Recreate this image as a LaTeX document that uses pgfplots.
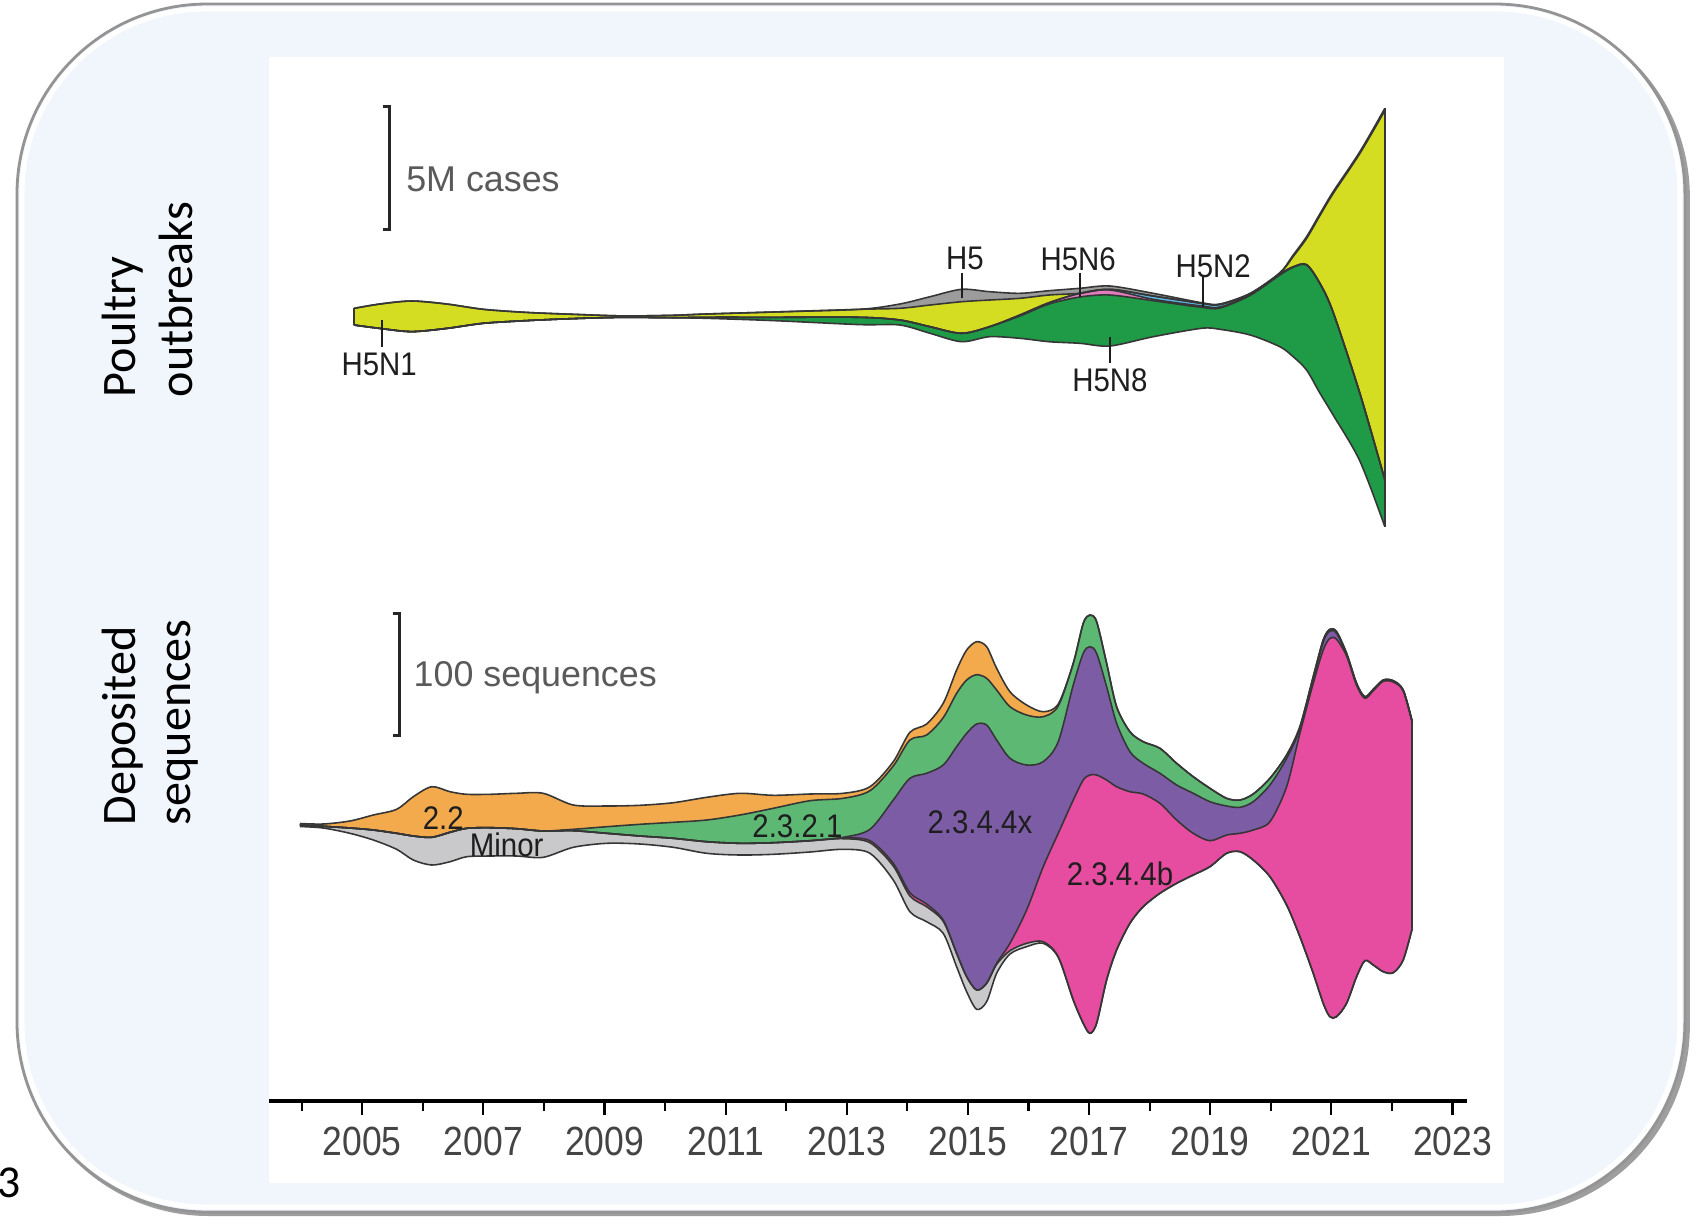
\documentclass[border=0pt]{standalone}
\usepackage{graphicx}
\usepackage{pgfplots}
\pgfplotsset{compat=1.18}
\usepackage{pgfplotstable}
\usepgfplotslibrary{fillbetween}
\usepackage{fontspec}
\setmainfont{Liberation Sans}
\newfontfamily\calib{Carlito}
\newcommand\sqz[1]{\scalebox{0.9}[1]{#1}}
\newcommand\sqt[1]{\scalebox{0.87}[1]{#1}}

\definecolor{framebg}{HTML}{F1F6FD}
\definecolor{outl}{HTML}{363636}
\definecolor{labgray}{HTML}{5A5A5A}
\definecolor{tickgray}{HTML}{444444}
\definecolor{txtdark}{HTML}{1E1E1E}
\definecolor{cH5}{HTML}{9C9C9C}
\definecolor{cN1}{HTML}{D5DD22}
\definecolor{cN2}{HTML}{5CB6E4}
\definecolor{cN6}{HTML}{E07BBE}
\definecolor{cN8}{HTML}{1F9A46}
\definecolor{cOr}{HTML}{F3AA4C}
\definecolor{cGr}{HTML}{5DB874}
\definecolor{cPu}{HTML}{7D5CA6}
\definecolor{cPk}{HTML}{E64C9F}
\definecolor{cMi}{HTML}{C9C9CB}

% Poultry outbreaks: stacked stream boundaries (top to bottom) H5 | H5N1 | H5N2 | H5N6 | H5N8
\pgfplotstableread{
yr b0 b1 b2 b3 b4 b5
2004.862 792.6 792.6 776.0 776.0 776.0 776.0
2005.291 797.0 797.0 772.6 772.6 772.6 772.6
2005.814 800.0 800.0 769.4 769.4 769.4 769.4
2006.393 797.0 797.0 772.6 772.6 772.6 772.6
2006.998 791.7 791.7 777.7 777.7 777.7 777.7
2007.714 788.6 788.6 780.4 780.4 780.4 780.4
2008.482 786.7 786.7 782.4 782.4 782.4 782.4
2009.309 785.1 785.1 783.7 783.7 783.7 783.7
2010.125 785.7 785.7 783.3 783.3 783.3 783.3
2010.679 787.0 787.0 783.7 783.7 783.7 782.7
2011.786 789.0 789.0 783.7 783.7 783.7 780.4
2013.214 791.7 791.7 783.7 783.7 783.7 776.4
2013.875 797.0 792.7 781.0 781.0 781.0 776.0
2014.375 804.3 796.0 774.3 774.3 774.3 767.7
2014.895 811.7 799.3 767.7 767.7 767.7 759.3
2015.357 809.3 801.0 774.3 774.3 774.3 764.3
2015.857 807.7 802.7 786.0 786.0 785.0 762.7
2016.339 810.3 806.0 798.3 798.3 797.0 759.3
2016.848 812.7 807.7 807.7 807.7 804.0 757.7
2017.345 815.0 811.7 811.7 811.0 806.0 755.0
2018.059 807.7 805.0 805.0 801.7 800.3 764.3
2018.857 798.3 797.7 797.7 795.0 793.7 772.7
2019.161 797.0 796.5 796.5 794.0 793.0 771.7
2019.661 807.7 807.3 807.3 806.3 805.7 766.0
2020.150 828.3 827.7 827.0 826.5 826.0 754.3
2020.370 846.0 844.5 834.3 834.0 833.7 744.3
2020.591 864.3 862.5 836.5 836.2 836.0 731.0
2020.810 887.0 885.2 818.0 817.7 817.5 708.0
2021.030 909.3 907.5 789.0 788.7 788.5 686.0
2021.471 949.3 947.5 708.0 707.7 707.5 640.0
2021.884 992.7 990.5 621.5 621.2 621.0 574.3
}\toptab

% Deposited sequences: boundaries (top to bottom) 2.2 | 2.3.2.1 | 2.3.4.4x | 2.3.4.4b | Minor
\pgfplotstableread{
yr c0 c1 c2 c3 c4 c5
2003.971 277.5 276.0 276.0 276.0 276.0 274.5
2004.356 277.0 274.7 274.7 274.7 274.7 273.0
2004.797 280.0 273.0 273.0 273.0 273.0 267.7
2005.182 286.0 271.0 271.0 271.0 271.0 261.0
2005.568 291.7 267.7 267.7 267.7 267.7 251.7
2005.842 304.3 265.0 265.0 265.0 265.0 241.0
2006.146 314.3 263.7 263.7 263.7 263.7 236.0
2006.448 309.3 268.7 268.7 268.7 268.7 239.3
2006.724 306.7 272.7 272.7 272.7 272.7 244.3
2007.108 306.7 273.3 273.3 273.3 273.3 245.0
2007.549 307.7 272.3 272.3 272.3 272.3 245.0
2007.988 307.7 270.0 270.0 270.0 270.0 243.7
2008.484 296.0 271.7 270.3 270.3 270.3 253.7
2009.035 295.0 274.3 267.7 267.7 267.7 257.7
2009.585 295.7 276.7 265.0 265.0 265.0 257.0
2010.135 298.3 278.7 262.7 262.7 262.7 253.7
2010.686 303.7 281.0 259.3 259.3 259.3 247.7
2011.236 307.7 286.0 257.7 257.7 257.7 246.0
2011.786 305.7 292.7 258.3 258.3 258.3 246.7
2012.392 307.0 300.3 260.3 260.3 260.3 249.0
2012.941 307.7 302.7 263.7 263.0 262.3 251.7
2013.382 314.3 310.3 271.7 260.3 258.3 247.7
2013.767 339.3 335.0 301.0 237.7 235.0 221.0
2014.042 368.7 361.0 322.7 208.3 205.0 189.3
2014.318 377.0 366.0 327.7 197.0 194.3 179.3
2014.592 397.7 383.3 336.0 181.0 179.7 167.7
2014.813 431.0 407.7 354.3 147.7 147.7 134.3
2014.979 451.0 421.0 367.7 124.3 124.3 109.3
2015.144 459.3 426.3 377.0 111.0 111.0 91.7
2015.309 454.3 422.7 376.0 117.7 117.7 99.3
2015.474 432.7 411.0 361.0 137.7 136.7 127.7
2015.694 409.3 394.3 342.7 157.7 150.3 147.0
2015.969 396.0 386.0 336.0 191.0 157.7 154.3
2016.243 389.3 384.3 339.3 234.3 159.3 157.7
2016.491 397.0 395.0 359.3 267.7 144.3 143.7
2016.739 437.7 437.7 416.0 301.0 101.0 101.0
2016.904 477.7 477.7 447.7 321.0 77.7 77.7
2017.014 486.0 486.0 454.3 326.0 67.7 67.7
2017.125 479.3 479.3 447.7 326.0 77.7 77.7
2017.290 437.7 437.7 414.3 321.0 121.0 121.0
2017.455 394.3 394.3 377.7 314.3 151.0 151.0
2017.675 369.3 369.3 349.3 309.3 177.7 177.7
2017.894 359.3 359.3 337.7 307.0 194.3 194.3
2018.170 352.7 352.7 327.7 297.7 207.7 207.7
2018.446 337.7 337.7 316.0 281.0 217.7 217.7
2018.720 324.3 324.3 307.7 267.7 226.0 226.0
2018.996 312.7 312.7 299.3 260.3 234.3 234.3
2019.271 302.7 302.7 295.0 266.0 247.7 247.7
2019.491 301.0 301.0 293.7 267.7 249.3 249.3
2019.710 307.0 307.0 299.3 271.0 241.0 241.0
2019.986 322.7 322.7 316.0 279.3 224.3 224.3
2020.262 346.0 346.0 342.7 314.3 196.0 196.0
2020.481 374.3 374.3 372.3 367.7 164.3 164.3
2020.701 424.3 424.3 422.3 417.7 127.7 127.7
2020.866 461.0 461.0 459.0 451.0 97.7 97.7
2020.976 471.7 471.7 470.0 462.7 84.3 84.3
2021.087 469.3 469.3 467.7 461.7 84.3 84.3
2021.252 447.7 447.7 446.7 445.0 97.7 97.7
2021.417 417.7 417.7 417.0 415.7 124.3 124.3
2021.554 404.3 404.3 404.0 402.7 140.3 140.3
2021.692 411.7 411.7 411.3 410.3 136.0 136.0
2021.857 421.0 421.0 420.7 419.7 129.3 129.3
2022.022 420.3 420.3 420.0 419.0 128.3 128.3
2022.187 411.0 411.0 410.7 410.0 141.0 141.0
2022.336 379.3 379.3 379.0 378.3 172.7 172.7
}\bottab

\begin{document}
\begin{tikzpicture}
\begin{scope}[x=0.1mm,y=0.1mm]
  \useasboundingbox (0,0) rectangle (1696,1216);
  % panel titles
  \node[rotate=90, anchor=base west, inner sep=0pt] at (135,818) {\calib\fontsize{13.7}{16}\selectfont Poultry};
  \node[rotate=90, anchor=base west, inner sep=0pt] at (192,818) {\calib\fontsize{13.7}{16}\selectfont outbreaks};
  \node[rotate=90, anchor=base west, inner sep=0pt] at (135,390) {\calib\fontsize{13.7}{16}\selectfont Deposited};
  \node[rotate=90, anchor=base west, inner sep=0pt] at (190,390) {\calib\fontsize{13.7}{16}\selectfont sequences};
  \node[anchor=base west, inner sep=0pt] at (-3,19) {\calib\fontsize{13}{15}\selectfont 3};
\end{scope}

\begin{axis}[
  at={(26.9mm,11.5mm)}, anchor=south west,
  width=119.8mm, height=104.4mm, scale only axis,
  xmin=2003.46, xmax=2023.24, ymin=0, ymax=1044,
  axis x line*=bottom, axis y line=none, ytick=\empty,
  x axis line style={line width=1.1pt, black, -},
  xtick={2005,2007,...,2023},
  minor xtick={2004,2006,...,2022},
  xtick align=outside,
  major tick length=1.4mm, minor tick length=1.0mm,
  every tick/.style={black, line width=0.6pt},
  xticklabels={\sqt{2005},\sqt{2007},\sqt{2009},\sqt{2011},\sqt{2013},\sqt{2015},\sqt{2017},\sqt{2019},\sqt{2021},\sqt{2023}},
  xticklabel style={font=\fontsize{11.6}{13}\selectfont, text=tickgray, inner sep=0pt, anchor=north, yshift=-1.1mm},
  clip=false,
  ol/.style={draw=outl, line width=0.45pt, smooth, no marks},
]
\begin{pgfonlayer}{axis background}
  \fill[white] (axis cs:1999.0185,-115) rectangle (axis cs:2027.019,1101);
  \fill[black!38, rounded corners=19mm] (axis cs:1999.33,-115) rectangle (axis cs:2026.92,1094);
  \filldraw[fill=framebg, draw=black!42, line width=0.8pt, rounded corners=19mm] (axis cs:1999.299,-111) rectangle (axis cs:2026.838,1097);
  \draw[white, line width=1.4pt, rounded corners=18.4mm] (axis cs:1999.382,-106) rectangle (axis cs:2026.756,1092);
  \fill[white] (axis cs:2003.459,-82) rectangle (axis cs:2023.849,1044);
\end{pgfonlayer}
% ---- top panel ----
\addplot[ol, name path=T0] table[x=yr,y=b0]{\toptab};
\addplot[ol, name path=T1] table[x=yr,y=b1]{\toptab};
\addplot[ol, name path=T2] table[x=yr,y=b2]{\toptab};
\addplot[ol, name path=T3] table[x=yr,y=b3]{\toptab};
\addplot[ol, name path=T4] table[x=yr,y=b4]{\toptab};
\addplot[ol, name path=T5] table[x=yr,y=b5]{\toptab};
\addplot[fill=cH5] fill between[of=T0 and T1];
\addplot[fill=cN1] fill between[of=T1 and T2];
\addplot[fill=cN2] fill between[of=T2 and T3];
\addplot[fill=cN6] fill between[of=T3 and T4];
\addplot[fill=cN8] fill between[of=T4 and T5];
\addplot[draw=outl, line width=0.45pt, no marks] coordinates {(2004.862,792.6) (2004.862,776.0)};
\addplot[draw=outl, line width=0.45pt, no marks] coordinates {(2021.884,992.7) (2021.884,574.3)};
% ---- bottom panel ----
\addplot[ol, name path=B0] table[x=yr,y=c0]{\bottab};
\addplot[ol, name path=B1] table[x=yr,y=c1]{\bottab};
\addplot[ol, name path=B2] table[x=yr,y=c2]{\bottab};
\addplot[ol, name path=B3] table[x=yr,y=c3]{\bottab};
\addplot[ol, name path=B4] table[x=yr,y=c4]{\bottab};
\addplot[ol, name path=B5] table[x=yr,y=c5]{\bottab};
\addplot[fill=cOr] fill between[of=B0 and B1];
\addplot[fill=cGr] fill between[of=B1 and B2];
\addplot[fill=cPu] fill between[of=B2 and B3];
\addplot[fill=cPk] fill between[of=B3 and B4];
\addplot[fill=cMi] fill between[of=B4 and B5];
\addplot[draw=outl, line width=0.45pt, no marks] coordinates {(2022.336,379.3) (2022.336,172.7)};

% scale bars
\draw[line width=0.85pt, black!85] (axis cs:2005.35,995) -- (axis cs:2005.447,995) -- (axis cs:2005.447,871.7) -- (axis cs:2005.35,871.7);
\node[anchor=base west, inner sep=0pt, text=labgray, font=\fontsize{10.2}{12}\selectfont] at (axis cs:2005.715,909.5) {5M cases};
\draw[line width=0.85pt, black!85] (axis cs:2005.51,487.7) -- (axis cs:2005.622,487.7) -- (axis cs:2005.622,366) -- (axis cs:2005.51,366);
\node[anchor=base west, inner sep=0pt, text=labgray, font=\fontsize{10.2}{12}\selectfont] at (axis cs:2005.837,415) {100 sequences};

% top labels
\begin{scope}[every node/.style={anchor=base, inner sep=0pt, text=txtdark, font=\fontsize{9.3}{11}\selectfont}]
\draw[line width=0.5pt, txtdark] (axis cs:2005.32,781) -- (axis cs:2005.32,754.3);
\node at (axis cs:2005.279,726) {\sqz{H5N1}};
\draw[line width=0.5pt, txtdark] (axis cs:2014.896,828) -- (axis cs:2014.896,802.7);
\node at (axis cs:2014.95,831.7) {\sqz{H5}};
\draw[line width=0.5pt, txtdark] (axis cs:2016.849,828.3) -- (axis cs:2016.849,804.3);
\node at (axis cs:2016.82,831) {\sqz{H5N6}};
\draw[line width=0.5pt, txtdark] (axis cs:2018.875,824) -- (axis cs:2018.875,794.3);
\node at (axis cs:2019.05,823.3) {\sqz{H5N2}};
\draw[line width=0.5pt, txtdark] (axis cs:2017.344,764.3) -- (axis cs:2017.344,737.7);
\node at (axis cs:2017.344,709.3) {\sqz{H5N8}};
% bottom labels
\node at (axis cs:2006.337,272) {\sqz{2.2}};
\node at (axis cs:2007.384,244.3) {\sqz{Minor}};
\node at (axis cs:2012.185,263.7) {\sqz{2.3.2.1}};
\node at (axis cs:2015.198,267.7) {\sqz{2.3.4.4x}};
\node at (axis cs:2017.51,216) {\sqz{2.3.4.4b}};
\end{scope}
\end{axis}
\end{tikzpicture}
\end{document}
